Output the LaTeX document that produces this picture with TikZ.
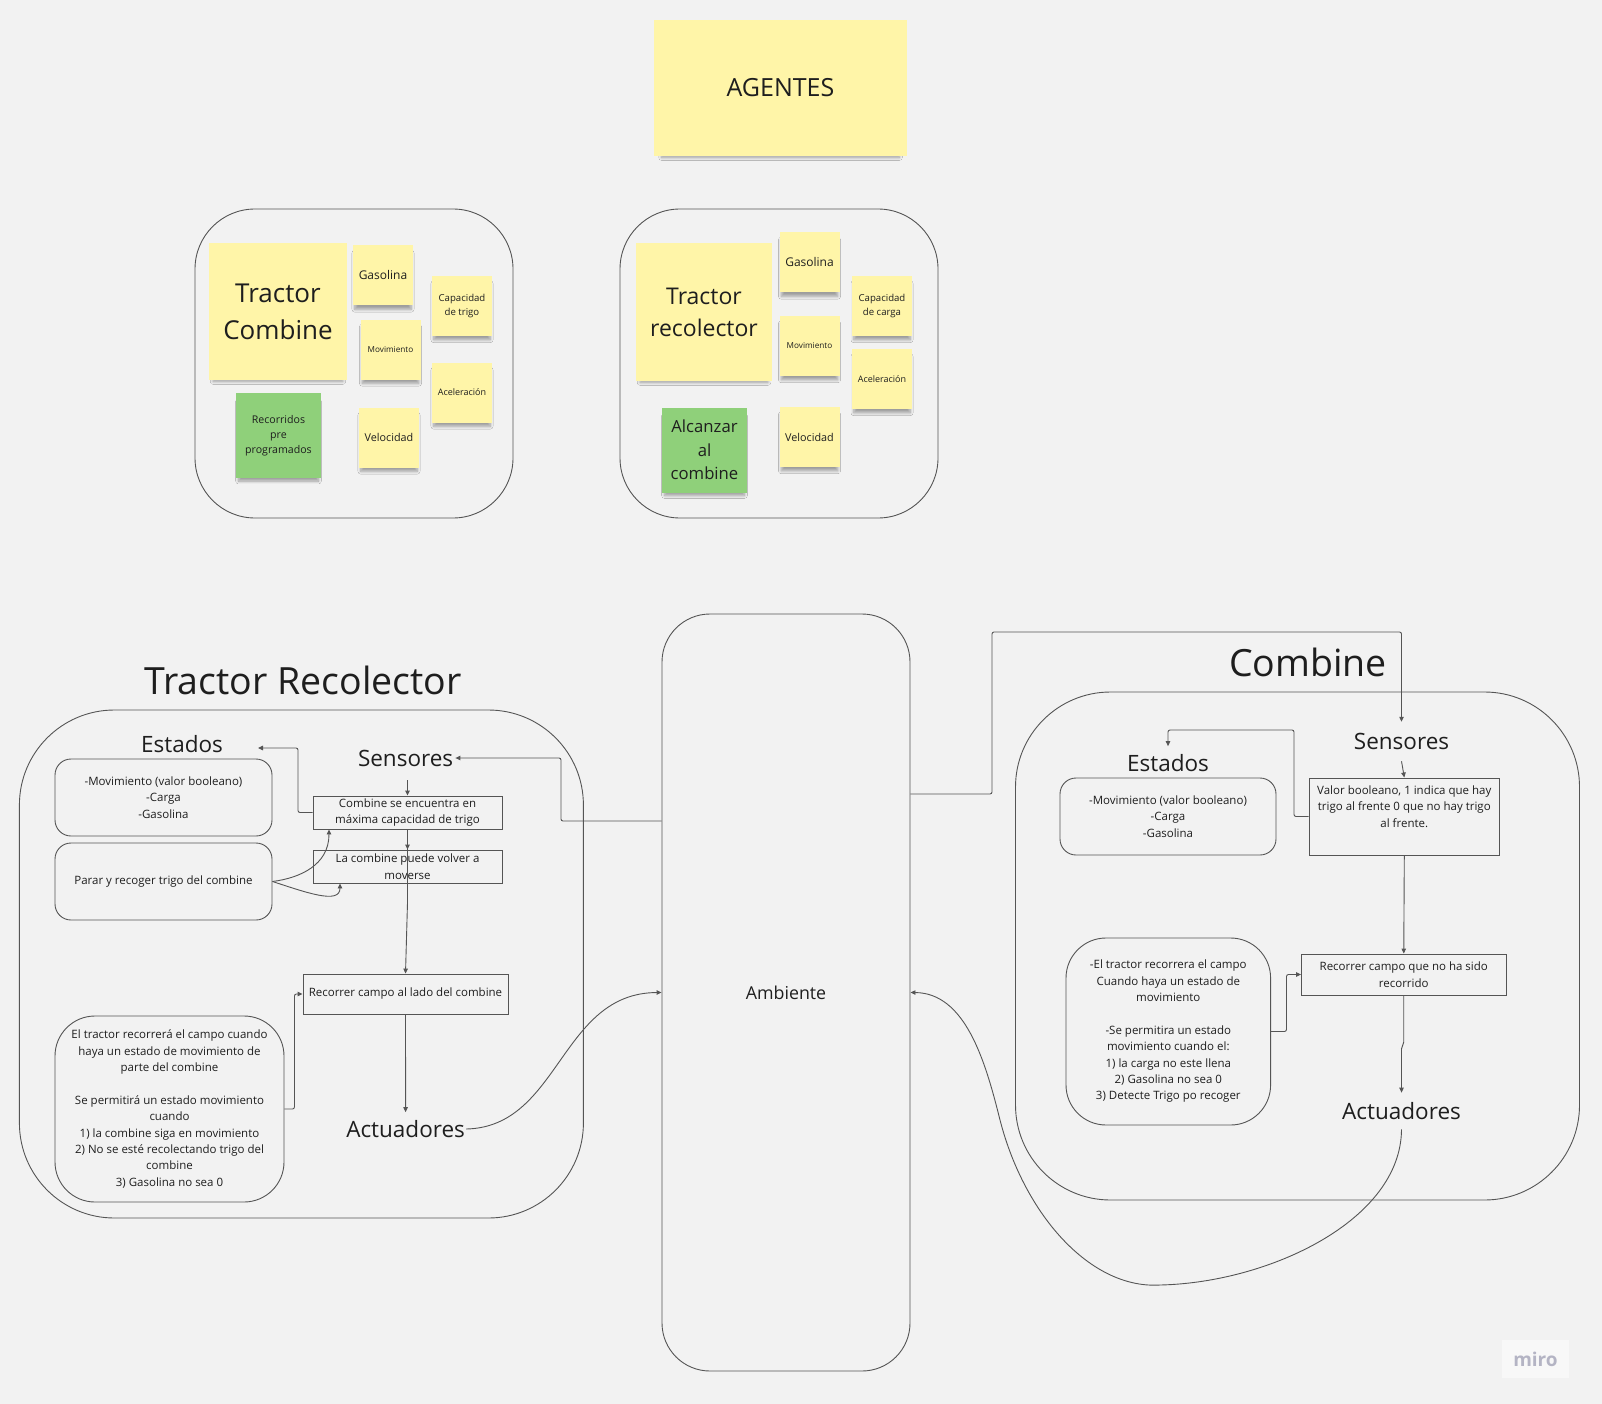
\documentclass[tikz,border=0pt]{standalone}
\usepackage{fontspec}
\setmainfont{Open Sans}
\usetikzlibrary{arrows.meta, shadows.blur}
\definecolor{bgcol}{HTML}{F2F2F2}
\definecolor{notecol}{HTML}{FFF5A8}
\definecolor{leafcol}{HTML}{8FD07A}
\definecolor{linecol}{HTML}{555555}
\definecolor{inkcol}{HTML}{1E1E1E}
\definecolor{mirocol}{HTML}{B4B4C4}
\newcommand{\fsz}[2]{\fontsize{#1}{#2}\selectfont}

\begin{document}
\begin{tikzpicture}[x=1pt, y=-1pt,
  every node/.style={text=inkcol, font=\fsz{11.5}{16.4}, align=center},
  note/.style={fill=notecol, inner sep=1, minimum width=60, minimum height=60,
    blur shadow={shadow xshift=0pt, shadow yshift=-6pt, shadow scale=0.94, shadow opacity=35, shadow blur steps=8, shadow blur radius=3pt}},
  leaf/.style={note, fill=leafcol, minimum width=85, minimum height=85},
  agentbox/.style={draw=linecol, line width=0.9pt, rounded corners=60, minimum width=318, minimum height=309},
  bigbox/.style={draw=linecol, line width=0.9pt, rounded corners=95, minimum width=564, minimum height=508},
  statebox/.style={draw=linecol, line width=0.9pt, rounded corners=16, minimum width=217, minimum height=77, inner sep=0},
  rulebox/.style={draw=linecol, line width=0.9pt, rounded corners=40, inner sep=0},
  flowbox/.style={draw=linecol, line width=0.9pt, inner sep=0, minimum height=33},
  heading/.style={font=\fsz{22.5}{27}, inner xsep=2, inner ysep=8},
  bigtitle/.style={font=\fsz{37.5}{44}},
  conn/.style={draw=linecol, line width=0.9pt, rounded corners=2pt, -{Triangle[length=5pt,width=4.5pt]}}]

\useasboundingbox[fill=bgcol] (0,0) rectangle (1602,1404);

\node[note, minimum width=253, minimum height=136, font=\fsz{25}{30}] (agentes) at (780.5,88) {AGENTES};

\node[agentbox] (agL) at (354,363.5) {};
\node[agentbox] (agR) at (779,363.5) {};

\node[note, minimum width=138, minimum height=137, font=\fsz{26}{37}] (tcomb) at (278,311.5) {Tractor\\Combine};
\node[note, font=\fsz{12}{15}] (gasL) at (383,275.5) {Gasolina};
\node[note, font=\fsz{9.6}{13.3}] (capL) at (462,306) {Capacidad\\de trigo};
\node[note, font=\fsz{8.2}{11}] (movL) at (390.5,349.5) {Movimiento};
\node[note, font=\fsz{9}{12}] (aceL) at (462,392.5) {Aceleración};
\node[note, font=\fsz{10.8}{14}] (velL) at (389,437.5) {Velocidad};
\node[leaf, font=\fsz{10.6}{15}] (recL) at (278.5,435.5) {Recorridos\\pre\\programados};

\node[note, minimum width=136, minimum height=138, font=\fsz{23}{32}] (trec) at (704,312) {Tractor\\recolector};
\node[note, font=\fsz{12}{15}] (gasR) at (809.5,262.5) {Gasolina};
\node[note, font=\fsz{9.6}{13.3}] (capR) at (882,306) {Capacidad\\de carga};
\node[note, font=\fsz{8.2}{11}] (movR) at (809.5,346) {Movimiento};
\node[note, font=\fsz{9}{12}] (aceR) at (882,379) {Aceleración};
\node[note, font=\fsz{10.8}{14}] (velR) at (809.5,437) {Velocidad};
\node[leaf, font=\fsz{16.7}{23.3}] (alcR) at (704.5,450) {Alcanzar\\al\\combine};

\node[bigbox] (recBig) at (301.4,964) {};
\node[bigbox] (comBig) at (1297.5,946) {};
\node[draw=linecol, line width=0.9pt, rounded corners=48, minimum width=248, minimum height=757, font=\fsz{17.8}{22}] (amb) at (786,992.5) {Ambiente};

\node[bigtitle] (titRec) at (303,680) {Tractor Recolector};
\node[heading] (estL) at (182,744) {Estados};
\node[heading, inner ysep=14] (senL) at (405.6,758) {Sensores};
\node[statebox] (estBoxL) at (163.5,797.5) {-Movimiento (valor booleano)\\-Carga\\-Gasolina};
\node[statebox] (pararL) at (163.5,881.5) {Parar y recoger trigo del combine};
\node[flowbox, minimum width=189] (cseL) at (407.5,812.5) {Combine se encuentra en\\máxima capacidad de trigo};
\node[flowbox, minimum width=189] (lcpL) at (407.5,866.5) {La combine puede volver a\\moverse};
\node[flowbox, minimum width=205, minimum height=40] (rcaL) at (405.5,994) {Recorrer campo al lado del combine};
\node[rulebox, minimum width=229, minimum height=186] (etrL) at (169.5,1109) {El tractor recorrerá el campo cuando\\haya un estado de movimiento de\\parte del combine\\[16.4pt]Se permitirá un estado movimiento\\cuando\\1) la combine siga en movimiento\\2) No se esté recolectando trigo del\\combine\\3) Gasolina no sea 0};
\node[heading, inner xsep=1] (actL) at (405.6,1129) {Actuadores};
\coordinate (estLin) at (258,748);

\node[bigtitle] (titCom) at (1308,662) {Combine};
\node[heading] (estR) at (1168,763) {Estados};
\node[heading, inner ysep=11.3] (senR) at (1401.5,741.5) {Sensores};
\node[statebox, minimum width=216] (estBoxR) at (1168,816.5) {-Movimiento (valor booleano)\\-Carga\\-Gasolina};
\node[flowbox, minimum width=190.6, minimum height=77] (valR) at (1404.3,816.5) {};
\node[anchor=north, inner sep=0] (valTxt) at ([yshift=-8pt]valR.north) {Valor booleano, 1 indica que hay\\trigo al frente 0 que no hay trigo\\al frente.};
\node[flowbox, minimum width=204.5, minimum height=41] (rcrR) at (1403.75,974.5) {Recorrer campo que no ha sido\\recorrido};
\node[rulebox, minimum width=204.6, minimum height=187] (etrR) at (1168.3,1031.5) {-El tractor recorrera el campo\\Cuando haya un estado de\\movimiento\\[16.2pt]-Se permitira un estado\\movimiento cuando el:\\1) la carga no este llena\\2) Gasolina no sea 0\\3) Detecte Trigo po recoger};
\node[heading, inner ysep=9.5] (actR) at (1401.5,1111) {Actuadores};

\node[fill=white!45!bgcol, minimum width=67, minimum height=38, text=mirocol, font=\fsz{19}{24}\bfseries] (miro) at (1535.5,1359) {miro};

\draw[conn] (amb.west |- 0,821) -| (561,758) -- (senL.east);
\draw[conn] (senL.south -| cseL.north) -- (cseL.north);
\draw[conn] (cseL.west) -| (298,748) -- (estLin);
\draw[conn] (cseL.south) -- (lcpL.north);
\draw[conn] (cseL.south) -- ([yshift=-19pt]lcpL.south) -- (rcaL.north);
\draw[conn] (pararL.east) .. controls (300,878) and (329,865) .. ([xshift=-78.5pt]cseL.south);
\draw[conn] (pararL.east) .. controls (305,892) and (340,905) .. ([xshift=-67.5pt]lcpL.south);
\draw[conn] (etrL.east) -- ++(10,0) |- (rcaL.west);
\draw[conn] (rcaL.south) -- (actL.north);
\draw[conn] (actL.east) .. controls (560,1127) and (560,993) .. (amb.west);

\draw[conn] (amb.east |- 0,794) -| (992,632) -| (senR.north);
\draw[conn] (senR.south) -- (valR.north);
\draw[conn] (valR.west) -| (1294,730) -| (estR.north);
\draw[conn] (valR.south) -- (rcrR.north);
\draw[conn] (etrR.east) -- ++(15.4,0) |- (rcrR.west);
\draw[conn] (rcrR.south) -- (1403.7,1044) -- (1401.5,1047) -- (actR.north);
\draw[conn] (actR.south) .. controls (1401,1220) and (1270,1282) .. (1160,1285) .. controls (1090,1288) and (1025,1215) .. (1000,1120) .. controls (985,1060) and (965,993) .. (amb.east);
\end{tikzpicture}
\end{document}
